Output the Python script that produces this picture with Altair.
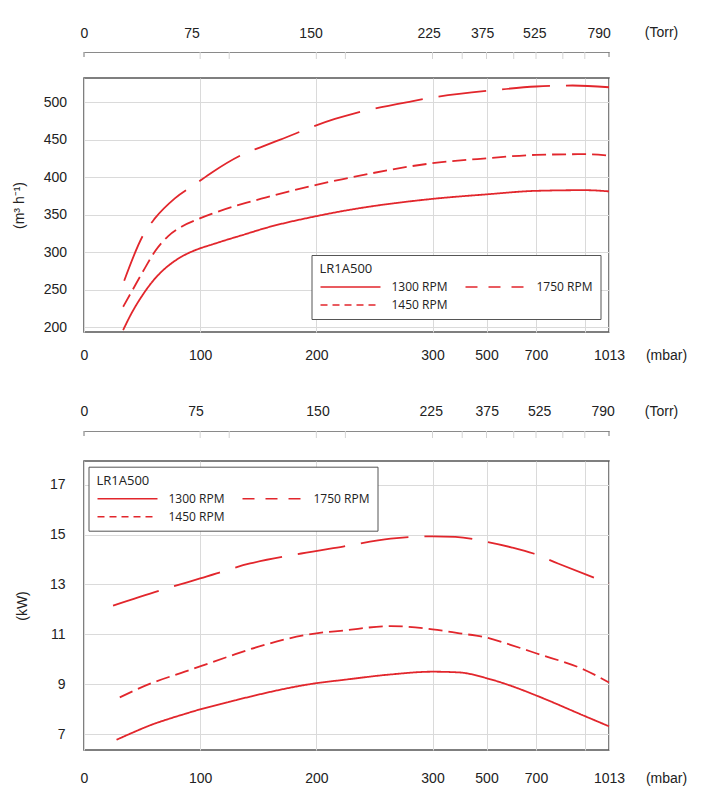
import altair as alt
import pandas as pd

RED = "#e2262c"

# ---------------- data ----------------
# upper panel: pumping speed (m3/h) vs inlet pressure (mbar)
speed_1300_mbar = [33.7, 40.9, 49.5, 58.1, 66.7, 75.3, 83.9, 92.5, 99.7, 109.8, 124, 135.6,
                   157, 200, 222, 300, 500, 700, 900, 1013]
speed_1300_val = [196.3, 218.6, 240.7, 259.3, 274, 285.2, 294, 300.6, 305, 310, 317, 322.4,
                  332.5, 348, 354.6, 371, 377, 381.7, 382.6, 381]
speed_1450_mbar = [33.7, 42.3, 52.3, 61, 72.5, 83.9, 99.7, 109.8, 135.6, 157, 200, 222,
                   300, 500, 700, 900, 1013]
speed_1450_val = [227.4, 251, 278.5, 301, 321.5, 334, 345, 351, 364, 373, 389.7, 397,
                  418.5, 425, 429.6, 430.5, 428.7]
speed_1750_mbar = [34.6, 51, 61, 78.2, 96.8, 109.8, 135.6, 154, 169, 216, 233, 282, 300,
                   535, 700, 850, 1013]
speed_1750_val = [262, 322.9, 345, 371.7, 391.7, 405.8, 429.4, 441, 450, 477.5, 485, 501, 506,
                  516, 520.7, 522, 519.7]

# lower panel: power (kW) vs inlet pressure (mbar)
power_1300_mbar = [28, 44, 58, 72.5, 87, 100, 126, 143, 200, 223, 264, 300, 400, 500, 600,
                   700, 900, 1013]
power_1300_val = [6.77, 7.1, 7.37, 7.6, 7.81, 7.99, 8.3, 8.5, 9.04, 9.17, 9.39, 9.5, 9.47,
                  9.24, 8.93, 8.55, 7.72, 7.31]
power_1450_mbar = [30.8, 58.1, 86.8, 100.5, 126.4, 143, 200, 223, 264, 300, 400, 500, 600,
                   700, 900, 1013]
power_1450_val = [8.47, 9.04, 9.5, 9.72, 10.14, 10.4, 11.04, 11.15, 11.33, 11.2, 11.04,
                  10.87, 10.57, 10.24, 9.57, 9.07]
power_1750_mbar = [25, 65, 100, 143, 187, 223, 264, 300, 385, 500, 600, 690, 790, 1013]
power_1750_val = [12.15, 12.75, 13.24, 13.84, 14.24, 14.52, 14.84, 14.93, 14.91, 14.71,
                  14.49, 14.24, 13.84, 13.04]

series_names = ["1300 RPM", "1450 RPM", "1750 RPM"]

# axis ticks / labels
mbar_ticks = [0, 100, 200, 300, 500, 700, 900, 1013]
mbar_labels = ["0", "100", "200", "300", "500", "700", "", "1013"]
torr_labels = ["0", "75", "150", "225", "375", "525", "790"]
torr_pos_upper = [0, 92.5, 195, 296.6, 484, 693, 965]
torr_pos_lower = [0, 96, 201, 298.5, 501, 713, 983]
torr_minor = [100, 125, 200, 225, 300, 410, 500, 610, 700, 810, 900]
torr_ends = [0, 1013]
speed_ticks = [200, 250, 300, 350, 400, 450, 500]
power_ticks = [7, 9, 11, 13, 15, 17]

# piecewise x scale (compressed above 300 mbar)
x_domain = [0, 300, 500, 700, 900, 1013]
x_range = [0, 348.5, 402.5, 452, 500.8, 525]

line_dashes = [[1, 0], [14, 6], [48, 16]]
legend_dashes = [[1, 0], [7, 5], [12, 11]]


def long_df(pairs):
    rows = []
    for name, (xs, ys) in zip(series_names, pairs):
        for xv, yv in zip(xs, ys):
            rows.append({"series": name, "mbar": xv, "val": yv})
    return pd.DataFrame(rows)


speed_df = long_df([(speed_1300_mbar, speed_1300_val), (speed_1450_mbar, speed_1450_val),
                    (speed_1750_mbar, speed_1750_val)])
power_df = long_df([(power_1300_mbar, power_1300_val), (power_1450_mbar, power_1450_val),
                    (power_1750_mbar, power_1750_val)])


def label_expr(vals, labels):
    expr = "''"
    for v, l in reversed(list(zip(vals, labels))):
        expr = f"datum.value == {v} ? '{l}' : ({expr})"
    return expr


def x_scale():
    return alt.Scale(domain=x_domain, range=x_range, nice=False, zero=False)


def make_legend(lx, ly):
    return alt.Legend(
        title="LR1A500", orient="none", legendX=lx, legendY=ly, columns=2,
        symbolType="M-1,0H11", symbolSize=100, symbolStrokeWidth=1.5,
        symbolStrokeColor=RED, symbolOpacity=1, labelOffset=60, columnPadding=15,
        rowPadding=6, padding=8, fillColor="#ffffff", strokeColor="#555555",
        titleFont="Open Sans", titleFontSize=13, titleFontWeight="normal",
        titleColor="#222222", titlePadding=5, labelFont="Open Sans",
        labelFontSize=12, labelColor="#222222",
    )


def panel(df, y_domain, y_vals, y_title, height, lx, ly, top_off, top_pad,
          bot_pad, bot_title_y, y_lab_pad, y_title_pad, torr_pos):
    y_scale = alt.Scale(domain=y_domain, nice=False, zero=False)
    y_axis = alt.Axis(values=y_vals, grid=True, ticks=False, domain=False,
                      labelPadding=y_lab_pad, title=y_title, titlePadding=y_title_pad)
    lines = alt.Chart(df).mark_line(
        color=RED, strokeWidth=1.8, interpolate="monotone"
    ).encode(
        x=alt.X("mbar:Q", scale=x_scale(), axis=alt.Axis(
            values=mbar_ticks, labelExpr=label_expr(mbar_ticks, mbar_labels),
            grid=True, ticks=False, domain=False, labelPadding=bot_pad,
            labelFlush=False, labelOverlap=False, title="(mbar)",
            titleX=582, titleY=bot_title_y, titleBaseline="middle",
            titleAlign="center")),
        y=alt.Y("val:Q", scale=y_scale, axis=y_axis),
        strokeDash=alt.StrokeDash(
            "series:N", scale=alt.Scale(domain=series_names, range=line_dashes),
            legend=None),
    )
    # legend carrier: same series, drawn with no rows, so only its legend shows
    legend_layer = alt.Chart(df).transform_filter("false").mark_line(
        color=RED, strokeWidth=1.5
    ).encode(
        x=alt.X("mbar:Q", scale=x_scale(), axis=None),
        y=alt.Y("val:Q", scale=y_scale, axis=y_axis),
        strokeDash=alt.StrokeDash(
            "series:N", scale=alt.Scale(domain=series_names, range=legend_dashes),
            legend=make_legend(lx, ly)),
    )
    minor = alt.Chart(pd.DataFrame({"mbar": torr_minor})).mark_rule(
        color="#d4d4d4", strokeWidth=1
    ).encode(
        x=alt.X("mbar:Q", scale=x_scale(), axis=alt.Axis(
            orient="top", offset=top_off, values=torr_pos,
            labelExpr=label_expr(torr_pos, torr_labels), grid=False,
            ticks=False, tickSize=0, domain=True, domainColor="#8a8a8a",
            domainWidth=1, labelPadding=top_pad, labelFlush=False,
            labelOverlap=False, title="(Torr)", titleX=577, titleY=-20,
            titleBaseline="middle", titleAlign="center")),
        y=alt.value(-top_off), y2=alt.value(-top_off + 7),
    )
    ends = alt.Chart(pd.DataFrame({"mbar": torr_ends})).mark_rule(
        color="#777777", strokeWidth=1
    ).encode(
        x=alt.X("mbar:Q", scale=x_scale(), axis=None),
        y=alt.value(-top_off), y2=alt.value(-top_off + 5),
    )
    return alt.layer(lines, legend_layer, minor, ends).resolve_axis(
        x="independent").resolve_scale(strokeDash="independent").properties(
        width=525, height=height)


top = panel(speed_df, [193.7, 532], speed_ticks, "(m³ h⁻¹)", 254, 227.5, 177,
            26, 12, 16, 23, 17.5, 17, torr_pos_upper)
bottom = panel(power_df, [6.36, 17.95], power_ticks, "(kW)", 289, 4.5, 5.7,
               30, 13, 21, 28, 19, 20, torr_pos_lower)

chart = alt.vconcat(top, bottom, spacing=40).resolve_scale(
    strokeDash="independent").resolve_legend(strokeDash="independent").properties(
    padding={"left": 3, "top": 16, "right": 5, "bottom": 5}
).configure_view(stroke="#555555", strokeWidth=1.5).configure_axis(
    labelFont="Liberation Sans", labelFontSize=14, labelColor="#222222",
    titleFont="Liberation Sans", titleFontSize=14, titleFontWeight="normal",
    titleColor="#222222", gridColor="#dadada", gridWidth=1)

chart.save("out.html", embed_options={"renderer": "svg", "actions": False})
